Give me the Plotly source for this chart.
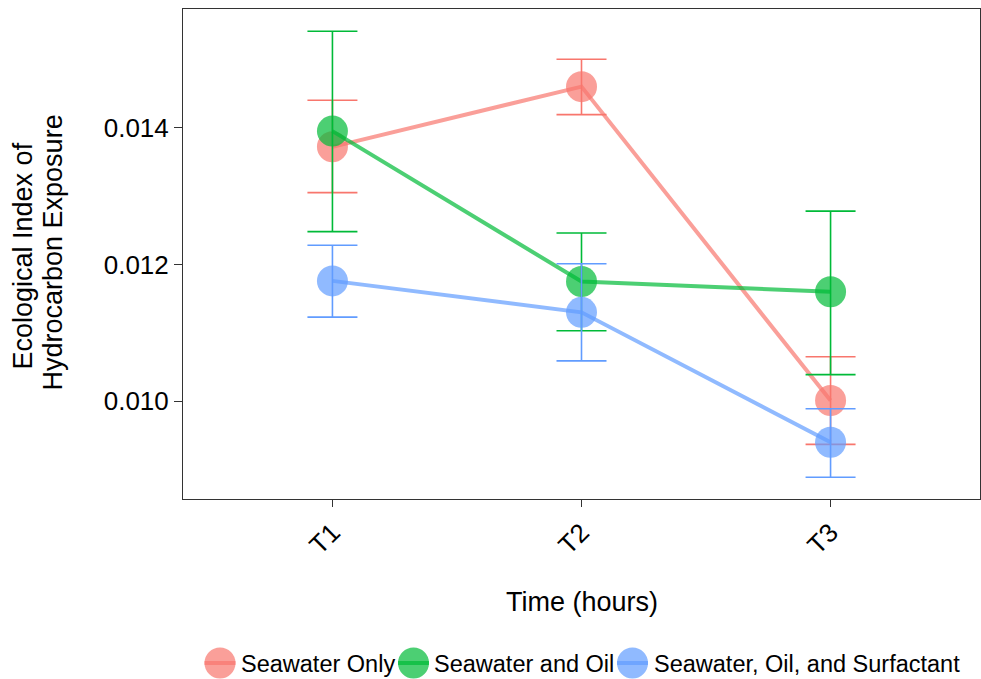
import plotly.graph_objects as go

times = ["T1", "T2", "T3"]
series_names = ["Seawater Only", "Seawater and Oil", "Seawater, Oil, and Surfactant"]
sw_only = [0.01372, 0.01460, 0.01001]
sw_only_hi = [0.01440, 0.01500, 0.01065]
sw_only_lo = [0.01305, 0.01419, 0.00937]
sw_oil = [0.01395, 0.01175, 0.01160]
sw_oil_hi = [0.01541, 0.01246, 0.01278]
sw_oil_lo = [0.01248, 0.01103, 0.01039]
sw_surf = [0.01176, 0.01130, 0.00940]
sw_surf_hi = [0.01228, 0.01201, 0.00989]
sw_surf_lo = [0.01123, 0.01059, 0.00889]
y_ticks = [0.010, 0.012, 0.014]

solid = ["#F8766D", "#00BA38", "#619CFF"]
faded = ["rgba(248,118,109,0.7)", "rgba(0,186,56,0.7)", "rgba(97,156,255,0.7)"]

W, H = 981, 679
ML, MR, MT, MB = 183, 1, 9, 180
PW, PH = W - ML - MR, H - MT - MB

fig = go.Figure()
data = [(sw_only, sw_only_hi, sw_only_lo), (sw_oil, sw_oil_hi, sw_oil_lo), (sw_surf, sw_surf_hi, sw_surf_lo)]
for i, (vals, hi, lo) in enumerate(data):
    fig.add_trace(go.Scatter(
        x=times, y=vals, name=series_names[i], mode="lines+markers",
        line=dict(color=faded[i], width=4),
        marker=dict(color=faded[i], size=31, line=dict(width=0)),
        error_y=dict(type="data", symmetric=False,
                     array=[h - v for h, v in zip(hi, vals)],
                     arrayminus=[v - l for v, l in zip(vals, lo)],
                     color=solid[i], thickness=1.6, width=25),
        showlegend=False,
    ))

# custom legend (big keys like ggplot), positions in pixels -> paper coords
def px_x(px):
    return (px - ML) / PW

def px_y(py):
    return (H - MB - py) / PH

legend_key_cx = [220, 413.5, 632.5]
legend_text_x = [239, 432, 652]
legend_cy = 663
key_r = 15.5
shapes = []
annotations = []
for i, name in enumerate(series_names):
    cx = legend_key_cx[i]
    shapes.append(dict(type="circle", xref="paper", yref="paper",
                       x0=px_x(cx - key_r), x1=px_x(cx + key_r),
                       y0=px_y(legend_cy + key_r), y1=px_y(legend_cy - key_r),
                       fillcolor=faded[i], line=dict(width=0)))
    shapes.append(dict(type="line", xref="paper", yref="paper",
                       x0=px_x(cx - key_r), x1=px_x(cx + key_r),
                       y0=px_y(legend_cy), y1=px_y(legend_cy),
                       line=dict(color=faded[i], width=4)))
    annotations.append(dict(text=name, xref="paper", yref="paper",
                            x=px_x(legend_text_x[i]), y=px_y(legend_cy + 1),
                            xanchor="left", yanchor="middle", showarrow=False,
                            font=dict(size=23.5, color="black")))

annotations += [
    dict(text="Ecological Index of", xref="paper", yref="paper",
         x=px_x(22.5), y=px_y(256), xanchor="center", yanchor="middle", textangle=-90,
         showarrow=False, font=dict(size=27, color="black")),
    dict(text="Hydrocarbon Exposure", xref="paper", yref="paper",
         x=px_x(52.5), y=px_y(253), xanchor="center", yanchor="middle", textangle=-90,
         showarrow=False, font=dict(size=27, color="black")),
    dict(text="Time (hours)", xref="paper", yref="paper",
         x=0.5, y=px_y(602), xanchor="center", yanchor="middle",
         showarrow=False, font=dict(size=27, color="black")),
]

fig.update_layout(
    width=W, height=H,
    margin=dict(l=ML, r=MR, t=MT, b=MB),
    paper_bgcolor="white", plot_bgcolor="white",
    font=dict(family="Liberation Sans, Arial, sans-serif", color="black"),
    showlegend=False,
    xaxis=dict(type="category", range=[-0.6, 2.6], showgrid=False, zeroline=False,
               showline=True, linecolor="#333333", linewidth=1, mirror=True,
               ticks="outside", ticklen=7, tickcolor="#333333", tickwidth=1,
               tickangle=-45, tickfont=dict(size=26, color="black")),
    yaxis=dict(range=[0.008571, 0.015735], showgrid=False, zeroline=False,
               showline=True, linecolor="#333333", linewidth=1, mirror=True,
               ticks="outside", ticklen=8, tickcolor="#333333", tickwidth=1,
               tickvals=y_ticks, tickformat=".3f", tickfont=dict(size=26, color="black")),
    shapes=shapes,
    annotations=annotations,
)

fig.write_html("out.html")
